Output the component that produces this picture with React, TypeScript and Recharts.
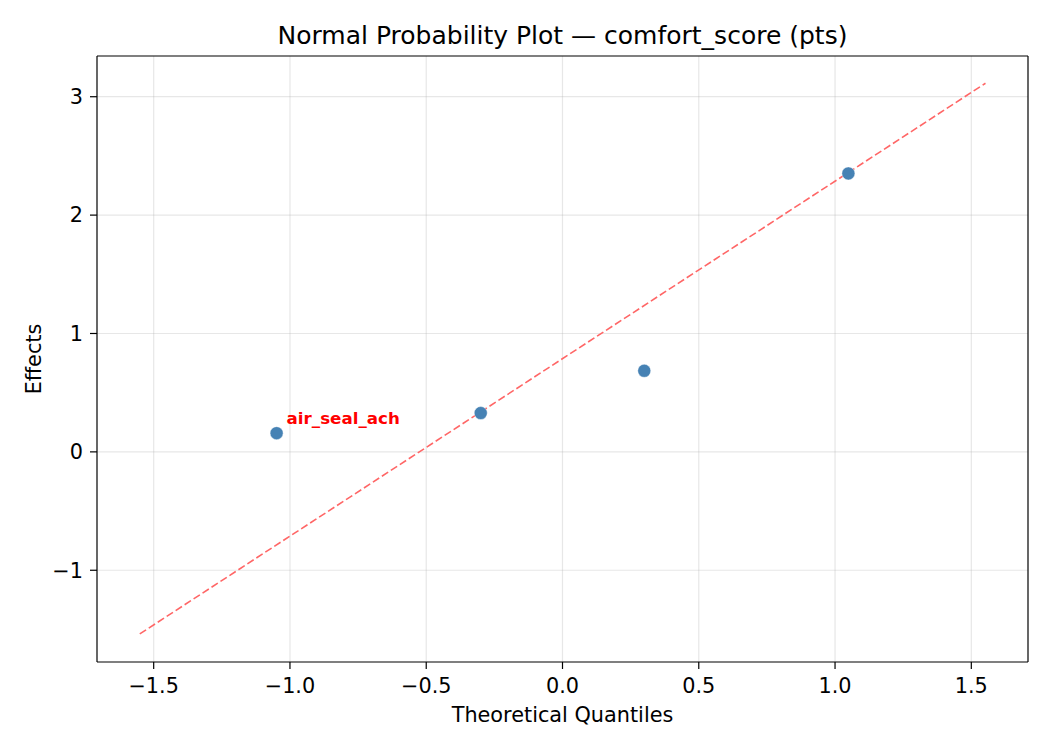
import { CartesianGrid, Label, LabelList, Scatter, ScatterChart, XAxis, YAxis } from "recharts";

// theoretical normal quantiles (Blom) vs. estimated effects
const quantiles = [-1.049, -0.3, 0.3, 1.049];
const effects = [0.158, 0.328, 0.685, 2.352];
const pointLabels = ["air_seal_ach", "", "", ""];

// reference line drawn through the effects
const fitX = [-1.551, 1.552];
const fitY = [-1.538, 3.114];

const xTicks = [-1.5, -1.0, -0.5, 0.0, 0.5, 1.0, 1.5];
const yTicks = [-1, 0, 1, 2, 3];

const points = quantiles.map((q, i) => ({ x: q, y: effects[i], name: pointLabels[i] }));
const fitLine = fitX.map((x, i) => ({ x, y: fitY[i] }));

const X_DOMAIN: [number, number] = [-1.708, 1.708];
const Y_DOMAIN: [number, number] = [-1.775, 3.344];

const FONT = "'DejaVu Sans', sans-serif";
const INK = "#000000";

const fmtX = (v: number) => v.toFixed(1).replace("-", "\u2212");
const fmtY = (v: number) => String(v).replace("-", "\u2212");

const Dot = (props: any) => (
  <circle cx={props.cx} cy={props.cy} r={6.5} fill="#4682b4" stroke="#ffffff" strokeWidth={0.4} />
);

const NoShape = () => null;

const PointTag = (props: any) => {
  if (!props.value) return null;
  return (
    <text x={props.x + props.width / 2 + 10} y={props.y + props.height / 2 - 9} fill="#ff0000" fontFamily={FONT} fontWeight="bold" fontSize={16.7}>
      {props.value}
    </text>
  );
};

export default function App() {
  return (
    <div style={{ position: "absolute", left: 0, top: 0, width: 1050, height: 750, background: "#fff", fontFamily: FONT }}>
      <ScatterChart width={1050} height={750} margin={{ top: 55, right: 21, bottom: 0, left: 0 }}>
        <CartesianGrid stroke="#b0b0b0" strokeOpacity={0.3} strokeWidth={1.2} horizontalValues={yTicks} verticalValues={xTicks} />
        <XAxis
          type="number"
          dataKey="x"
          domain={X_DOMAIN}
          ticks={xTicks}
          tickFormatter={fmtX}
          allowDataOverflow
          height={88}
          tickSize={7}
          tickMargin={9}
          axisLine={{ stroke: INK, strokeWidth: 1.2 }}
          tickLine={{ stroke: INK, strokeWidth: 1.2 }}
          tick={{ fill: INK, fontSize: 20.8, fontFamily: FONT }}
        >
          <Label
            content={(p: any) => (
              <text x={p.viewBox.x + p.viewBox.width / 2} y={722} textAnchor="middle" fill={INK} fontFamily={FONT} fontSize={20.8}>
                Theoretical Quantiles
              </text>
            )}
          />
        </XAxis>
        <XAxis xAxisId="top" type="number" dataKey="x" orientation="top" height={1} domain={X_DOMAIN} allowDataOverflow tick={false} tickLine={false} axisLine={{ stroke: INK, strokeWidth: 1.2 }} />
        <YAxis
          type="number"
          dataKey="y"
          domain={Y_DOMAIN}
          ticks={yTicks}
          tickFormatter={fmtY}
          allowDataOverflow
          width={97}
          tickSize={7}
          tickMargin={7}
          axisLine={{ stroke: INK, strokeWidth: 1.2 }}
          tickLine={{ stroke: INK, strokeWidth: 1.2 }}
          tick={{ fill: INK, fontSize: 20.8, fontFamily: FONT }}
        >
          <Label
            content={(p: any) => {
              const cy = p.viewBox.y + p.viewBox.height / 2;
              return (
                <text x={41} y={cy} transform={`rotate(-90 41 ${cy})`} textAnchor="middle" fill={INK} fontFamily={FONT} fontSize={20.8}>
                  Effects
                </text>
              );
            }}
          />
        </YAxis>
        <YAxis yAxisId="right" type="number" dataKey="y" orientation="right" width={1} domain={Y_DOMAIN} allowDataOverflow tick={false} tickLine={false} axisLine={{ stroke: INK, strokeWidth: 1.2 }} />
        <Scatter
          data={fitLine}
          xAxisId="top"
          yAxisId="right"
          line={{ stroke: "#ff6666", strokeWidth: 1.6, strokeDasharray: "7.5 3.2" }}
          shape={NoShape}
          isAnimationActive={false}
        />
        <Scatter data={points} shape={Dot} isAnimationActive={false}>
          <LabelList dataKey="name" content={PointTag} />
        </Scatter>
      </ScatterChart>
      <div style={{ position: "absolute", left: 97, width: 931, top: 21, textAlign: "center", fontSize: 25, lineHeight: "30px", color: INK }}>
        Normal Probability Plot — comfort_score (pts)
      </div>
    </div>
  );
}
